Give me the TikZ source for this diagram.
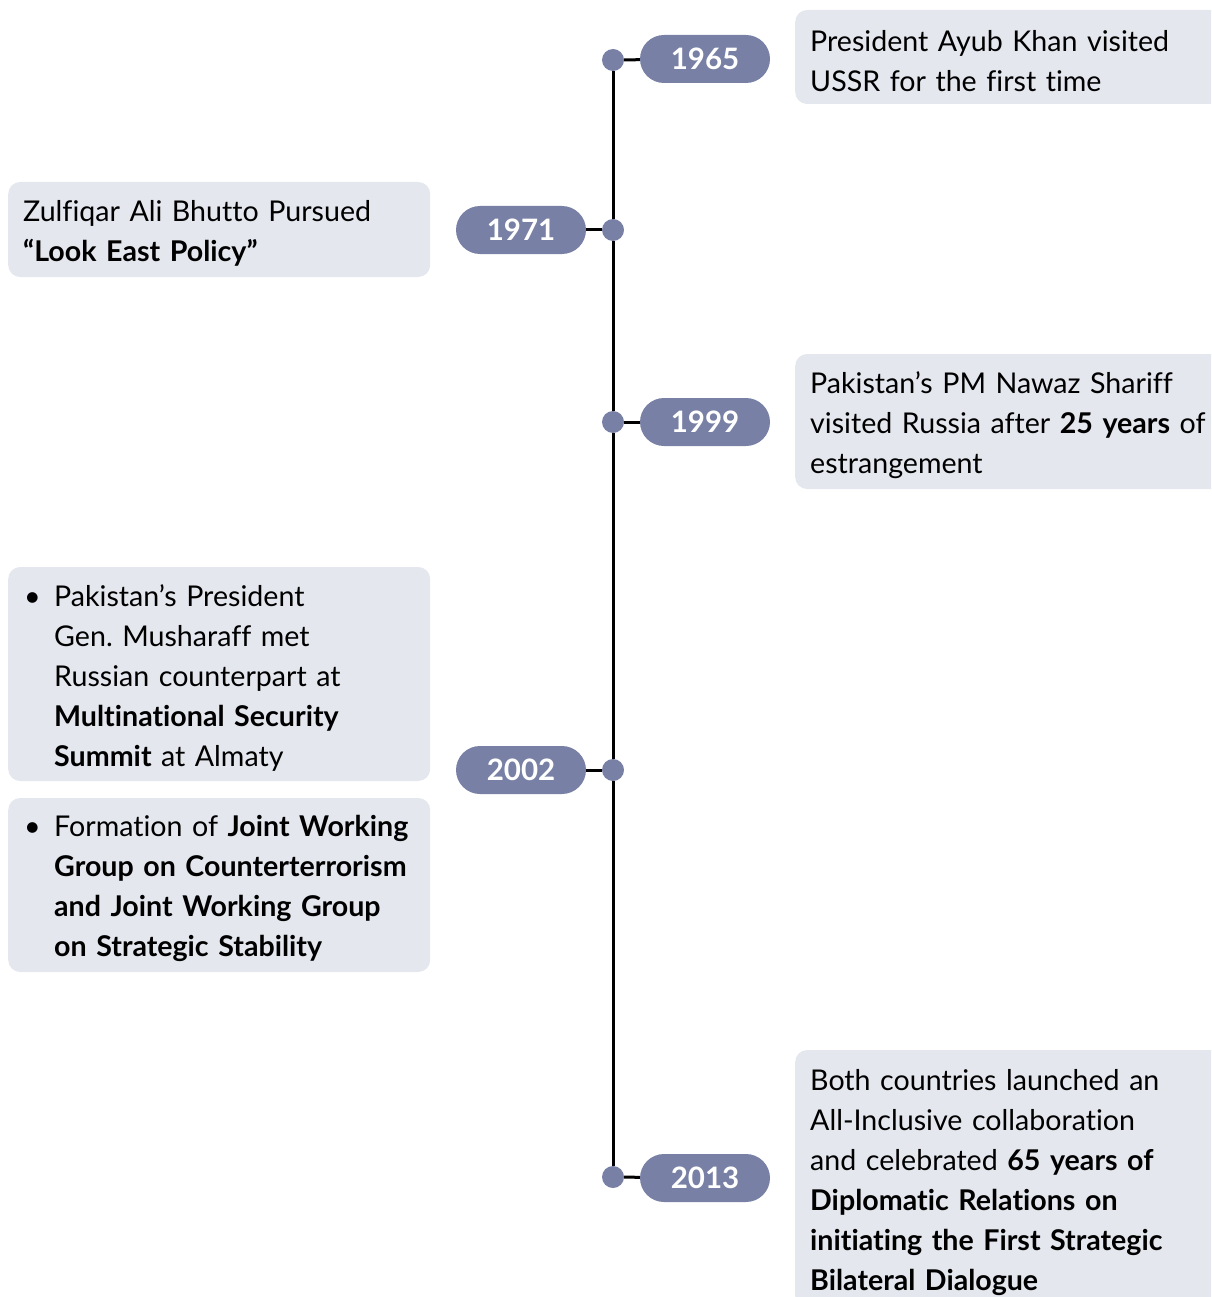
\documentclass[tikz,border=0pt]{standalone}
\usepackage{fontspec}
\setmainfont{Lato}[Ligatures={NoCommon}]
\usetikzlibrary{positioning}
\definecolor{pill}{RGB}{120,129,165}
\definecolor{card}{RGB}{228,231,238}
\tikzstyle{dot}   = [circle, fill=pill, minimum size=22pt, inner sep=0pt]
\tikzstyle{year}  = [rectangle, rounded corners=24pt, fill=pill, text=white, minimum width=130pt, minimum height=48pt, inner sep=0pt, font=\fontsize{29.5}{34}\selectfont\bfseries]
\tikzstyle{event} = [rectangle, rounded corners=12pt, fill=card, anchor=west, inner xsep=15pt, inner ysep=0pt, align=left, font=\fontsize{28.6}{40}\selectfont, execute at begin node={\rule{0pt}{29pt}}]
\tikzstyle{left}  = [event, text width=392pt, minimum width=422pt]
\tikzstyle{right} = [event, text width=420pt, minimum width=450pt]
\tikzstyle{edge}  = [line width=3pt]
\newcommand{\bulletmark}{\hspace*{1pt}\makebox[30pt][l]{\textbullet}}
\newcommand{\indentmark}{\hspace*{31pt}}
\frenchspacing

\begin{document}
\begin{tikzpicture}[x=1pt, y=-1pt]
\useasboundingbox (0,0) rectangle (1211,1297);
\clip (0,0) rectangle (1211,1297);

% body na ose
\node[dot] (t1) at (613,60) {};
\node[dot] (t2) at (613,230) {};
\node[dot] (t3) at (613,422) {};
\node[dot] (t4) at (613,770) {};
\node[dot] (t5) at (613,1177) {};

% roky
\node[year] (y1) at (705,59) {1965};
\node[year] (y2) at (521,230) {1971};
\node[year] (y3) at (705,422) {1999};
\node[year] (y4) at (521,770) {2002};
\node[year] (y5) at (705,1178) {2013};

% osa
\draw[edge] (t1) -- (t2) -- (t3) -- (t4) -- (t5);

% spojky k rokům
\draw[edge] (t1) -- (y1);
\draw[edge] (t2) -- (y2);
\draw[edge] (t3) -- (y3);
\draw[edge] (t4) -- (y4);
\draw[edge] (t5) -- (y5);

% události
\node[right, minimum height=94pt] (e1) at (795,57) {President Ayub Khan visited\\USSR for the first time};
\node[left, minimum height=95pt] (e2) at (8,229.5) {Zulfiqar Ali Bhutto Pursued\\\textbf{“Look East Policy”}};
\node[right, minimum height=135pt] (e3) at (795,421.5) {Pakistan’s PM Nawaz Shariff\\visited Russia after \textbf{25 years} of\\estrangement};
\node[left, minimum height=214pt] (e4) at (8,674) {\bulletmark Pakistan’s President\\\indentmark Gen. Musharaff met\\\indentmark Russian counterpart at\\\indentmark\textbf{Multinational Security}\\\indentmark\textbf{Summit} at Almaty};
\node[left, minimum height=174pt] (e5) at (8,885) {\bulletmark Formation of \textbf{Joint Working}\\\indentmark\textbf{Group on Counterterrorism}\\\indentmark\textbf{and Joint Working Group}\\\indentmark\textbf{on Strategic Stability}};
\node[right, minimum height=258pt] (e6) at (795,1179) {Both countries launched an\\All-Inclusive collaboration\\and celebrated \textbf{65 years of}\\\textbf{Diplomatic Relations on}\\\textbf{initiating the First Strategic}\\\textbf{Bilateral Dialogue}};

\end{tikzpicture}
\end{document}
